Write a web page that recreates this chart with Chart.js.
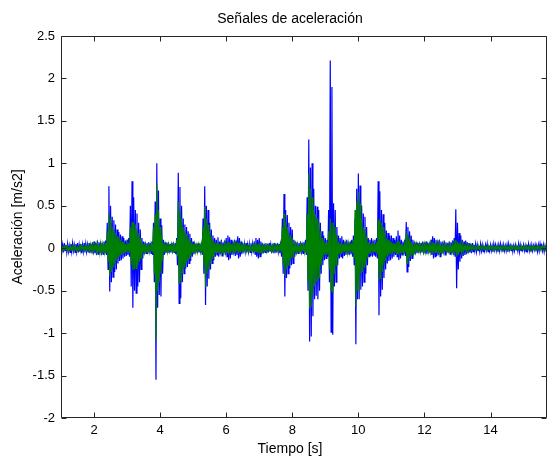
<!DOCTYPE html>
<html>
<head>
<meta charset="utf-8">
<title>Señales de aceleración</title>
<script src="https://cdn.jsdelivr.net/npm/chart.js@4.4.0/dist/chart.umd.min.js"></script>
<style>
    html, body { margin: 0; padding: 0; background: #fff; overflow: hidden; }
    canvas { display: block; }
</style>
</head>
<body>
<canvas id="accel-chart" width="547" height="458"></canvas>
<script>
// Sampling grid of the envelope tables below (seconds), one row = one second
const sampleStart = 1.0;
const sampleStep = 0.05;

// Blue signal: highest / lowest value inside each 0.05 s window (m/s2)
const blueHi = [
    0.05, 0.04, 0.06, 0.04, 0.05, 0.03, 0.05, 0.06, 0.04, 0.05, 0.06, 0.04, 0.05, 0.04, 0.06, 0.05, 0.04, 0.06, 0.05, 0.07,
    0.08, 0.06, 0.09, 0.07, 0.08, 0.06, 0.08, 0.09, 0.30, 0.73, 0.50, 0.37, 0.33, 0.28, 0.22, 0.19, 0.16, 0.14, 0.12, 0.09,
    0.10, 0.12, 0.50, 0.79, 0.60, 0.45, 0.41, 0.30, 0.22, 0.12, 0.08, 0.07, 0.06, 0.07, 0.06, 0.08, 0.30, 0.55, 1.00, 0.68,
    0.35, 0.27, 0.10, 0.07, 0.06, 0.07, 0.05, 0.06, 0.07, 0.06, 0.12, 0.89, 0.72, 0.50, 0.35, 0.28, 0.25, 0.20, 0.17, 0.12,
    0.08, 0.06, 0.05, 0.06, 0.05, 0.07, 0.35, 0.73, 0.50, 0.45, 0.30, 0.22, 0.15, 0.12, 0.10, 0.13, 0.08, 0.10, 0.07, 0.09,
    0.12, 0.15, 0.13, 0.10, 0.08, 0.10, 0.09, 0.14, 0.12, 0.08, 0.06, 0.05, 0.06, 0.04, 0.05, 0.06, 0.05, 0.08, 0.12, 0.10,
    0.12, 0.08, 0.06, 0.05, 0.06, 0.05, 0.06, 0.04, 0.05, 0.06, 0.05, 0.06, 0.05, 0.08, 0.35, 0.64, 0.45, 0.39, 0.30, 0.25,
    0.22, 0.10, 0.08, 0.07, 0.06, 0.08, 0.06, 0.07, 0.10, 0.60, 1.28, 0.95, 1.00, 0.70, 0.50, 0.49, 0.45, 0.30, 0.20, 0.15,
    0.12, 0.10, 0.45, 2.21, 1.90, 0.53, 0.45, 0.25, 0.15, 0.12, 0.14, 0.10, 0.08, 0.10, 0.07, 0.08, 0.10, 0.15, 0.35, 0.70,
    0.88, 0.74, 0.50, 0.41, 0.37, 0.25, 0.12, 0.10, 0.12, 0.09, 0.10, 0.12, 0.79, 0.67, 0.45, 0.40, 0.30, 0.21, 0.18, 0.15,
    0.15, 0.12, 0.10, 0.14, 0.21, 0.15, 0.10, 0.08, 0.10, 0.31, 0.25, 0.20, 0.15, 0.10, 0.08, 0.07, 0.06, 0.07, 0.06, 0.08,
    0.07, 0.08, 0.06, 0.07, 0.10, 0.14, 0.12, 0.10, 0.09, 0.10, 0.08, 0.07, 0.09, 0.07, 0.06, 0.08, 0.07, 0.09, 0.12, 0.46,
    0.30, 0.18, 0.15, 0.10, 0.08, 0.09, 0.07, 0.06, 0.05, 0.06, 0.04, 0.05, 0.04, 0.03, 0.05, 0.04, 0.03, 0.04, 0.05, 0.03,
    0.04, 0.03, 0.05, 0.04, 0.03, 0.04, 0.05, 0.03, 0.04, 0.03, 0.04, 0.05, 0.03, 0.04, 0.03, 0.04, 0.03, 0.05, 0.04, 0.03,
    0.04, 0.03, 0.04, 0.05, 0.03, 0.04, 0.03, 0.04, 0.03, 0.04, 0.05, 0.03, 0.04, 0.03, 0.04
];
const blueLo = [
    -0.04, -0.05, -0.03, -0.05, -0.04, -0.05, -0.04, -0.03, -0.05, -0.04, -0.05, -0.04, -0.06, -0.04, -0.05, -0.04, -0.05, -0.06, -0.05, -0.07,
    -0.06, -0.08, -0.07, -0.06, -0.08, -0.07, -0.06, -0.08, -0.25, -0.51, -0.40, -0.34, -0.28, -0.25, -0.18, -0.15, -0.14, -0.12, -0.10, -0.09,
    -0.08, -0.10, -0.45, -0.70, -0.50, -0.53, -0.45, -0.40, -0.25, -0.12, -0.07, -0.06, -0.07, -0.05, -0.06, -0.08, -0.40, -1.55, -0.70, -0.55,
    -0.57, -0.30, -0.08, -0.06, -0.05, -0.06, -0.05, -0.06, -0.05, -0.07, -0.20, -0.65, -0.59, -0.40, -0.30, -0.24, -0.22, -0.18, -0.15, -0.10,
    -0.07, -0.05, -0.06, -0.05, -0.06, -0.08, -0.30, -0.67, -0.45, -0.36, -0.25, -0.18, -0.14, -0.10, -0.08, -0.10, -0.07, -0.09, -0.06, -0.08,
    -0.10, -0.14, -0.12, -0.08, -0.07, -0.09, -0.08, -0.12, -0.10, -0.07, -0.05, -0.04, -0.05, -0.04, -0.05, -0.04, -0.05, -0.07, -0.10, -0.12,
    -0.10, -0.07, -0.06, -0.05, -0.06, -0.05, -0.04, -0.06, -0.05, -0.06, -0.05, -0.04, -0.06, -0.10, -0.30, -0.57, -0.35, -0.30, -0.24, -0.20,
    -0.18, -0.10, -0.07, -0.06, -0.05, -0.07, -0.06, -0.05, -0.08, -0.50, -1.10, -1.04, -0.80, -0.60, -0.56, -0.60, -0.50, -0.30, -0.20, -0.14,
    -0.12, -0.10, -0.40, -0.99, -1.02, -0.45, -0.40, -0.20, -0.12, -0.10, -0.12, -0.09, -0.08, -0.07, -0.08, -0.07, -0.10, -0.20, -1.13, -0.60,
    -0.60, -0.49, -0.45, -0.40, -0.30, -0.20, -0.10, -0.09, -0.10, -0.08, -0.10, -0.12, -0.79, -0.57, -0.49, -0.35, -0.25, -0.18, -0.15, -0.14,
    -0.12, -0.10, -0.08, -0.10, -0.14, -0.12, -0.08, -0.07, -0.09, -0.28, -0.22, -0.15, -0.12, -0.08, -0.07, -0.06, -0.05, -0.06, -0.05, -0.07,
    -0.06, -0.07, -0.05, -0.06, -0.08, -0.12, -0.10, -0.09, -0.08, -0.10, -0.07, -0.06, -0.08, -0.06, -0.05, -0.07, -0.06, -0.08, -0.10, -0.47,
    -0.25, -0.16, -0.12, -0.09, -0.08, -0.07, -0.06, -0.05, -0.06, -0.04, -0.03, -0.04, -0.03, -0.04, -0.03, -0.04, -0.03, -0.02, -0.04, -0.03,
    -0.03, -0.04, -0.02, -0.03, -0.04, -0.03, -0.02, -0.04, -0.03, -0.03, -0.04, -0.02, -0.03, -0.04, -0.03, -0.02, -0.03, -0.04, -0.03, -0.02,
    -0.03, -0.04, -0.02, -0.03, -0.04, -0.03, -0.02, -0.03, -0.04, -0.03, -0.02, -0.03, -0.04, -0.03, -0.03
];

// Green signal, same windows
const greenHi = [
    0.02, 0.01, 0.02, 0.03, 0.02, 0.01, 0.02, 0.02, 0.03, 0.02, 0.01, 0.02, 0.03, 0.02, 0.02, 0.03, 0.02, 0.03, 0.04, 0.03,
    0.04, 0.03, 0.05, 0.04, 0.05, 0.04, 0.05, 0.06, 0.20, 0.41, 0.35, 0.25, 0.22, 0.18, 0.14, 0.12, 0.10, 0.08, 0.07, 0.05,
    0.05, 0.06, 0.25, 0.31, 0.30, 0.28, 0.22, 0.18, 0.12, 0.07, 0.05, 0.04, 0.04, 0.03, 0.04, 0.05, 0.25, 0.40, 0.76, 0.45,
    0.25, 0.15, 0.06, 0.04, 0.03, 0.04, 0.03, 0.04, 0.04, 0.04, 0.10, 0.55, 0.45, 0.35, 0.25, 0.20, 0.17, 0.13, 0.10, 0.07,
    0.05, 0.04, 0.03, 0.04, 0.03, 0.05, 0.25, 0.49, 0.35, 0.28, 0.20, 0.14, 0.10, 0.07, 0.06, 0.07, 0.05, 0.05, 0.04, 0.05,
    0.06, 0.08, 0.07, 0.05, 0.04, 0.05, 0.05, 0.07, 0.06, 0.04, 0.03, 0.03, 0.03, 0.02, 0.03, 0.03, 0.03, 0.04, 0.06, 0.05,
    0.06, 0.04, 0.03, 0.03, 0.03, 0.03, 0.03, 0.02, 0.03, 0.03, 0.03, 0.03, 0.03, 0.05, 0.25, 0.41, 0.30, 0.25, 0.18, 0.15,
    0.12, 0.06, 0.04, 0.04, 0.03, 0.04, 0.04, 0.04, 0.06, 0.40, 0.88, 0.70, 0.60, 0.45, 0.40, 0.35, 0.30, 0.20, 0.12, 0.09,
    0.07, 0.06, 0.20, 0.35, 0.30, 0.30, 0.25, 0.15, 0.08, 0.06, 0.06, 0.05, 0.05, 0.04, 0.05, 0.04, 0.06, 0.10, 0.45, 0.55,
    0.66, 0.53, 0.35, 0.25, 0.22, 0.15, 0.07, 0.05, 0.06, 0.05, 0.05, 0.07, 0.33, 0.35, 0.30, 0.25, 0.18, 0.12, 0.10, 0.08,
    0.08, 0.06, 0.05, 0.07, 0.10, 0.08, 0.05, 0.04, 0.05, 0.20, 0.15, 0.12, 0.08, 0.05, 0.04, 0.04, 0.03, 0.04, 0.03, 0.04,
    0.04, 0.04, 0.03, 0.04, 0.05, 0.07, 0.06, 0.05, 0.05, 0.05, 0.04, 0.04, 0.04, 0.03, 0.03, 0.04, 0.04, 0.04, 0.05, 0.10,
    0.08, 0.06, 0.05, 0.04, 0.03, 0.03, 0.03, 0.03, 0.03, 0.02, 0.02, 0.02, 0.02, 0.02, 0.02, 0.02, 0.02, 0.02, 0.02, 0.02,
    0.02, 0.02, 0.02, 0.02, 0.02, 0.02, 0.02, 0.02, 0.02, 0.02, 0.02, 0.02, 0.02, 0.02, 0.02, 0.02, 0.02, 0.02, 0.02, 0.02,
    0.02, 0.02, 0.02, 0.02, 0.02, 0.02, 0.02, 0.02, 0.02, 0.02, 0.02, 0.02, 0.02, 0.02, 0.02
];
const greenLo = [
    -0.02, -0.02, -0.01, -0.02, -0.03, -0.02, -0.01, -0.02, -0.02, -0.03, -0.02, -0.02, -0.01, -0.02, -0.03, -0.02, -0.02, -0.03, -0.03, -0.04,
    -0.03, -0.04, -0.04, -0.05, -0.04, -0.05, -0.04, -0.05, -0.15, -0.33, -0.28, -0.22, -0.18, -0.15, -0.12, -0.10, -0.08, -0.07, -0.06, -0.05,
    -0.04, -0.05, -0.20, -0.26, -0.25, -0.24, -0.20, -0.16, -0.12, -0.06, -0.04, -0.04, -0.03, -0.04, -0.03, -0.05, -0.30, -1.08, -0.50, -0.40,
    -0.30, -0.15, -0.05, -0.04, -0.04, -0.03, -0.04, -0.03, -0.04, -0.04, -0.10, -0.41, -0.38, -0.30, -0.22, -0.18, -0.15, -0.12, -0.09, -0.06,
    -0.05, -0.04, -0.04, -0.03, -0.04, -0.05, -0.20, -0.46, -0.30, -0.25, -0.18, -0.12, -0.09, -0.06, -0.05, -0.06, -0.04, -0.05, -0.04, -0.04,
    -0.05, -0.07, -0.06, -0.04, -0.04, -0.05, -0.04, -0.06, -0.05, -0.04, -0.03, -0.03, -0.02, -0.03, -0.03, -0.02, -0.03, -0.04, -0.05, -0.06,
    -0.05, -0.04, -0.03, -0.03, -0.03, -0.02, -0.03, -0.03, -0.03, -0.03, -0.02, -0.03, -0.03, -0.05, -0.20, -0.32, -0.25, -0.20, -0.15, -0.12,
    -0.10, -0.05, -0.04, -0.04, -0.03, -0.04, -0.03, -0.04, -0.05, -0.40, -0.71, -0.69, -0.55, -0.45, -0.40, -0.38, -0.35, -0.20, -0.12, -0.08,
    -0.07, -0.06, -0.25, -0.50, -0.53, -0.30, -0.20, -0.12, -0.07, -0.06, -0.05, -0.05, -0.04, -0.05, -0.04, -0.04, -0.06, -0.12, -0.69, -0.50,
    -0.50, -0.30, -0.28, -0.22, -0.18, -0.12, -0.06, -0.05, -0.05, -0.04, -0.05, -0.07, -0.38, -0.36, -0.28, -0.20, -0.15, -0.10, -0.08, -0.07,
    -0.07, -0.05, -0.05, -0.06, -0.08, -0.06, -0.05, -0.04, -0.05, -0.18, -0.12, -0.10, -0.07, -0.05, -0.04, -0.04, -0.03, -0.04, -0.03, -0.04,
    -0.04, -0.03, -0.04, -0.04, -0.05, -0.06, -0.05, -0.05, -0.04, -0.05, -0.04, -0.04, -0.03, -0.04, -0.03, -0.04, -0.04, -0.04, -0.05, -0.10,
    -0.08, -0.05, -0.04, -0.04, -0.03, -0.03, -0.03, -0.02, -0.02, -0.01, -0.01, -0.01, -0.01, -0.01, -0.01, -0.01, -0.01, -0.01, -0.01, -0.01,
    -0.01, -0.01, -0.01, -0.01, -0.01, -0.01, -0.01, -0.01, -0.01, -0.01, -0.01, -0.01, -0.01, -0.01, -0.01, -0.01, -0.01, -0.01, -0.01, -0.01,
    -0.01, -0.01, -0.01, -0.01, -0.01, -0.01, -0.01, -0.01, -0.01, -0.01, -0.01, -0.01, -0.01, -0.01, -0.01
];

// Axes
const xTicks = [2, 4, 6, 8, 10, 12, 14];
const yTicks = [-2, -1.5, -1, -0.5, 0, 0.5, 1, 1.5, 2, 2.5];
const xRange = [1, 15.71];
const yRange = [-2, 2.5];

const titleText = "Señales de aceleración";
const xLabelText = "Tiempo [s]";
const yLabelText = "Aceleración [m/s2]";

const fontFamily = "'Liberation Sans', Arial, sans-serif";
const axisColor = "#262626";

// Each window becomes its top value followed by its bottom value,
// so the line sweeps through the whole band like the dense original trace
function envelopePoints(hi, lo) {
    const points = [];
    hi.forEach((value, i) => {
        const t = sampleStart + i * sampleStep;
        points.push({ x: t, y: value });
        points.push({ x: t + sampleStep / 2, y: lo[i] });
    });
    return points;
}

// MATLAB-like box with inward ticks, plus title and axis labels
const matlabFrame = {
    id: "matlabFrame",
    afterDatasetsDraw(chart) {
        const { ctx, chartArea } = chart;
        const xScale = chart.scales.x;
        const yScale = chart.scales.y;
        const left = Math.round(chartArea.left) + 0.5;
        const right = Math.round(chartArea.right) - 0.5;
        const top = Math.round(chartArea.top) + 0.5;
        const bottom = Math.round(chartArea.bottom) - 0.5;
        const tickLen = 5;

        ctx.save();
        ctx.strokeStyle = axisColor;
        ctx.lineWidth = 1;
        ctx.beginPath();
        ctx.rect(left, top, right - left, bottom - top);

        xScale.ticks.forEach((tick) => {
            const x = Math.round(xScale.getPixelForValue(tick.value)) + 0.5;
            ctx.moveTo(x, bottom);
            ctx.lineTo(x, bottom - tickLen);
            ctx.moveTo(x, top);
            ctx.lineTo(x, top + tickLen);
        });
        yScale.ticks.forEach((tick) => {
            const y = Math.round(yScale.getPixelForValue(tick.value)) + 0.5;
            ctx.moveTo(left, y);
            ctx.lineTo(left + tickLen, y);
            ctx.moveTo(right, y);
            ctx.lineTo(right - tickLen, y);
        });
        ctx.stroke();
        ctx.restore();
    },
    afterDraw(chart) {
        const { ctx } = chart;
        ctx.save();
        ctx.fillStyle = "#000";
        ctx.font = "14px " + fontFamily;
        ctx.textAlign = "center";
        ctx.textBaseline = "middle";
        ctx.fillText(titleText, 290, 19);
        ctx.fillText(xLabelText, 290, 449);

        ctx.translate(18, 227);
        ctx.rotate(-Math.PI / 2);
        ctx.fillText(yLabelText, 0, 0);
        ctx.restore();
    }
};

const ctx = document.getElementById("accel-chart").getContext("2d");

new Chart(ctx, {
    type: "line",
    data: {
        datasets: [
            {
                label: "Señal 2",
                data: envelopePoints(greenHi, greenLo),
                borderColor: "#008000",
                borderWidth: 1.2,
                pointRadius: 0,
                tension: 0,
                order: 1
            },
            {
                label: "Señal 1",
                data: envelopePoints(blueHi, blueLo),
                borderColor: "#0000ff",
                borderWidth: 1.2,
                pointRadius: 0,
                tension: 0,
                order: 2
            }
        ]
    },
    options: {
        responsive: false,
        animation: false,
        events: [],
        layout: {
            padding: { left: 0, right: 0, top: 36, bottom: 0 }
        },
        plugins: {
            legend: { display: false },
            tooltip: { enabled: false },
            title: { display: false }
        },
        scales: {
            x: {
                type: "linear",
                min: xRange[0],
                max: xRange[1],
                afterBuildTicks: (scale) => {
                    scale.ticks = xTicks.map((v) => ({ value: v }));
                },
                afterFit: (scale) => {
                    scale.height = 40;
                },
                grid: { display: false, drawTicks: false },
                border: { display: false },
                ticks: {
                    color: "#000",
                    font: { family: fontFamily, size: 13 },
                    padding: 5,
                    maxRotation: 0,
                    autoSkip: false,
                    callback: (value) => String(value)
                }
            },
            y: {
                type: "linear",
                min: yRange[0],
                max: yRange[1],
                afterBuildTicks: (scale) => {
                    scale.ticks = yTicks.map((v) => ({ value: v }));
                },
                afterFit: (scale) => {
                    scale.width = 61;
                },
                grid: { display: false, drawTicks: false },
                border: { display: false },
                ticks: {
                    color: "#000",
                    font: { family: fontFamily, size: 13 },
                    padding: 6,
                    autoSkip: false,
                    callback: (value) => String(value)
                }
            }
        }
    },
    plugins: [matlabFrame]
});
</script>
</body>
</html>
